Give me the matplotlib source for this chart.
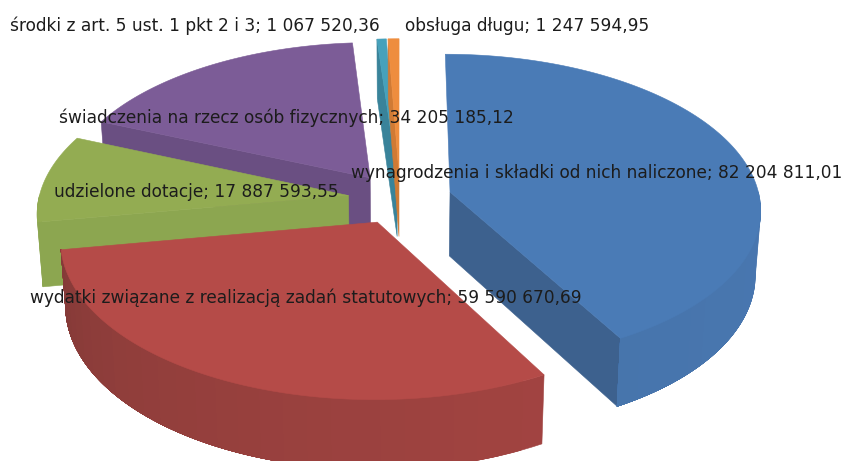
import numpy as np
import matplotlib
matplotlib.use("Agg")
import matplotlib.pyplot as plt
from matplotlib.patches import Polygon
from matplotlib.colors import to_rgb

categories = ["wynagrodzenia i składki od nich naliczone",
              "wydatki związane z realizacją zadań statutowych",
              "udzielone dotacje",
              "świadczenia na rzecz osób fizycznych",
              "środki z art. 5 ust. 1 pkt 2 i 3",
              "obsługa długu"]
values = [82204811.01, 59590670.69, 17887593.55, 34205185.12, 1067520.36, 1247594.95]

top_colors = ["#4a7bb6", "#b54b48", "#93ac52", "#7c5c97", "#46a1bb", "#ee8d3e"]
face_colors = ["#3d618e", "#8f3d3a", "#8ca650", "#6a4f82", "#39839a", "#d07a34"]
rim_left = ["#3f6c9f", "#7c3735", "#8ca650", "#6a4f82", "#39839a", "#d07a34"]
rim_right = ["#4977b0", "#ac4744", "#8ca650", "#6a4f82", "#39839a", "#d07a34"]
label_pos = [(351, 173), (30, 298), (54, 192), (59, 118), (10, 26), (405, 26)]
draw_order = [3, 4, 5, 2, 0, 1]

CX, CY = 400.0, 198.5
R, XSCALE, TILT, PERSP, EXPLODE, DEPTH, SHRINK = 316.0, 0.98, 0.486, 0.104, 53.0, 64.0, 0.985

fig = plt.figure(figsize=(8.5, 4.61), dpi=100)
ax = fig.add_axes([0, 0, 1, 1])
ax.set_xlim(0, 850)
ax.set_ylim(461, 0)
ax.axis("off")

vals = np.array(values)
edges = np.concatenate([[0], np.cumsum(vals)]) / vals.sum() * 2 * np.pi


def project(X, Y, bottom=False):
    X = XSCALE * np.asarray(X)
    w = 1 + PERSP * np.asarray(Y) / 313.0
    if bottom:
        return np.column_stack([CX + SHRINK * X / w,
                                CY - SHRINK * TILT * np.asarray(Y) / w + DEPTH / w])
    return np.column_stack([CX + X / w, CY - TILT * np.asarray(Y) / w])


def fmt(v):
    whole, dec = f"{v:,.2f}".split(".")
    return whole.replace(",", " ") + "," + dec


def poly(pts, color, z, aa=True):
    ax.add_patch(Polygon(pts, closed=True, facecolor=color, edgecolor=color,
                         linewidth=0.4, zorder=z, antialiased=aa))


for order, i in enumerate(draw_order):
    a, b = edges[i], edges[i + 1]
    m = (a + b) / 2
    x0, y0 = EXPLODE * np.sin(m), EXPLODE * np.cos(m)
    z = 2 + order
    # cut faces
    for ang, visible in ((a, np.sin(a) < -1e-6), (b, np.sin(b) > 1e-6)):
        if visible:
            xo, yo = x0 + R * np.sin(ang), y0 + R * np.cos(ang)
            pts = np.vstack([project([x0, xo], [y0, yo]),
                             project([xo, x0], [yo, y0], bottom=True)])
            poly(pts, face_colors[i], z)
    # outer rim: painted from one end with overlapping bands, so no seams show
    lo, hi = max(a, np.pi / 2), min(b, 3 * np.pi / 2)
    if hi > lo:
        n = max(int((hi - lo) / np.radians(4)), 2)
        th = np.linspace(lo, hi, n + 1)
        for k in range(n):
            t = np.linspace(th[k], hi, 60)
            X, Y = x0 + R * np.sin(t), y0 + R * np.cos(t)
            f = np.clip((3 * np.pi / 2 - th[k:k + 2].mean()) / np.pi, 0, 1) ** 0.6
            col = (1 - f) * np.array(to_rgb(rim_left[i])) + f * np.array(to_rgb(rim_right[i]))
            poly(np.vstack([project(X, Y), project(X[::-1], Y[::-1], bottom=True)]), col, z)
    # top surface
    t = np.linspace(a, b, 200)
    X = np.concatenate([[x0], x0 + R * np.sin(t)])
    Y = np.concatenate([[y0], y0 + R * np.cos(t)])
    poly(project(X, Y), top_colors[i], z)

for name, v, (px, py) in zip(categories, values, label_pos):
    ax.text(px, py, f"{name}; {fmt(v)}", ha="left", va="center",
            fontsize=12.25, color="#1c1c1c", family="DejaVu Sans", zorder=20)

fig.savefig("out.png", dpi=100, facecolor="white")
